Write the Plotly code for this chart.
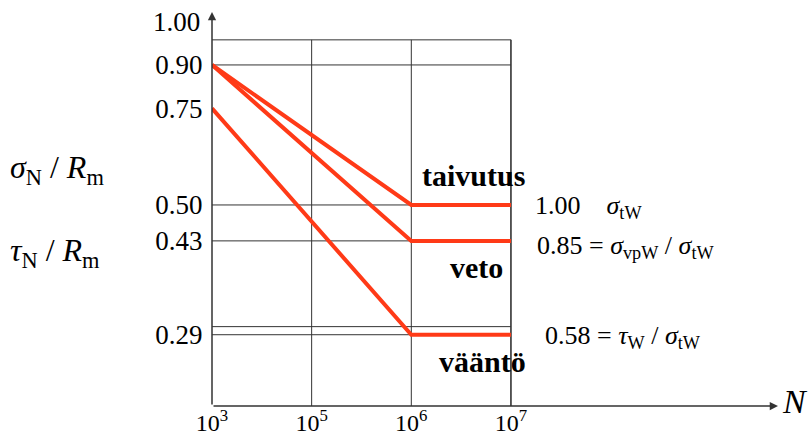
import math
import plotly.graph_objects as go

# Load-cycle categories on the horizontal axis
cycles = ["1e3", "1e5", "1e6", "1e7"]
cycle_labels = ["10<sup>3</sup>", "10<sup>5</sup>", "10<sup>6</sup>", "10<sup>7</sup>"]

# Fatigue strength ratio curves (points at 10^3, 10^6 and 10^7 cycles)
curve_cycles = ["1e3", "1e6", "1e7"]
taivutus = [0.90, 0.50, 0.50]
veto = [0.90, 0.43, 0.43]
vaanto = [0.75, 0.29, 0.29]

# Vertical axis ticks and reference lines
y_ticks = [0.29, 0.43, 0.50, 0.75, 0.90]
y_tick_labels = ["0.29", "0.43", "0.50", "0.75", "0.90"]
top_level = 1.00
grid_levels = [1.00, 0.90, 0.50, 0.43, 0.30, 0.29]

# Ratio labels to the right of the curves
ratio_labels = [
    "1.00\u00a0\u00a0\u00a0\u00a0<i>σ</i><sub>tW</sub>",
    "0.85 = <i>σ</i><sub>vpW</sub> / <i>σ</i><sub>tW</sub>",
    "0.58 = <i>τ</i><sub>W</sub> / <i>σ</i><sub>tW</sub>",
]

SERIF = "Liberation Serif, Times New Roman, serif"
RED = "#FF3A17"
GRID = "#333333"

x_of = {c: i for i, c in enumerate(cycles)}
y_min, y_max = 0.215, 1.124

fig = go.Figure()

# reference grid (drawn as plain line traces so they use real data values)
x_first, x_last = x_of[cycles[0]], x_of[cycles[-1]]
for lvl in grid_levels:
    fig.add_trace(go.Scatter(x=[x_first, x_last], y=[lvl, lvl], mode="lines",
                             line=dict(color=GRID, width=1), hoverinfo="skip",
                             showlegend=False))
for c in cycles[1:]:
    fig.add_trace(go.Scatter(x=[x_of[c], x_of[c]], y=[y_min, top_level], mode="lines",
                             line=dict(color=GRID, width=1.6 if c == cycles[-1] else 1),
                             hoverinfo="skip", showlegend=False))

# the three strength curves
cx = [x_of[c] for c in curve_cycles]
for name, vals in (("taivutus", taivutus), ("veto", veto), ("vääntö", vaanto)):
    fig.add_trace(go.Scatter(x=cx, y=vals, mode="lines", name=name,
                             line=dict(color=RED, width=4), showlegend=False))

L = math.log10
ann = []
# curve names
for text, xi, lvl, ys in (("taivutus", 2.62, taivutus[-1], 29),
                          ("veto", 2.65, veto[-1], -27),
                          ("vääntö", 2.71, vaanto[-1], -27)):
    ann.append(dict(text=f"<b>{text}</b>", x=xi, y=L(lvl), xref="x", yref="y",
                    yshift=ys, showarrow=False, xanchor="center", yanchor="middle",
                    font=dict(family=SERIF, size=30, color="black")))
# ratio labels
for text, lvl, xs, ys in zip(ratio_labels, (taivutus[-1], veto[-1], vaanto[-1]),
                             (22, 24, 32), (-2, -6, -2)):
    ann.append(dict(text=text, x=x_last, y=L(lvl), xref="x", yref="y",
                    xshift=xs, yshift=ys, showarrow=False, xanchor="left",
                    yanchor="middle", font=dict(family=SERIF, size=26, color="black")))
# top value of the vertical axis
ann.append(dict(text=f"{top_level:.2f}", x=0, y=L(top_level), xref="paper", yref="y",
                xshift=-10, yshift=18, showarrow=False, xanchor="right",
                yanchor="middle", font=dict(family=SERIF, size=27, color="black")))
# axis titles
ann.append(dict(text="<i>σ</i><sub>N</sub> / <i>R</i><sub>m</sub>", x=0, y=L(0.58),
                xref="paper", yref="y", xshift=-204, showarrow=False, xanchor="left",
                yanchor="middle", font=dict(family=SERIF, size=32, color="black")))
ann.append(dict(text="<i>τ</i><sub>N</sub> / <i>R</i><sub>m</sub>", x=0, y=L(0.41),
                xref="paper", yref="y", xshift=-204, showarrow=False, xanchor="left",
                yanchor="middle", font=dict(family=SERIF, size=32, color="black")))
ann.append(dict(text="<i>N</i>", x=1, y=0, xref="paper", yref="paper", xshift=17,
                yshift=5, showarrow=False, xanchor="center", yanchor="middle",
                font=dict(family=SERIF, size=34, color="black")))
# axis arrows
ann.append(dict(x=1, y=0, xref="paper", yref="paper", ax=-566, ay=0,
                axref="pixel", ayref="pixel", showarrow=True, arrowhead=2,
                arrowsize=1.1, arrowwidth=1.5, arrowcolor=GRID, text=""))
ann.append(dict(x=0, y=1, xref="paper", yref="paper", ax=0, ay=394,
                axref="pixel", ayref="pixel", showarrow=True, arrowhead=2,
                arrowsize=1.1, arrowwidth=1.5, arrowcolor=GRID, text=""))

fig.update_layout(
    width=808, height=441,
    margin=dict(l=212, r=30, t=12, b=35),
    paper_bgcolor="white", plot_bgcolor="white",
    annotations=ann,
    xaxis=dict(range=[0, 5.68], tickvals=[x_of[c] for c in cycles], ticktext=cycle_labels,
               showgrid=False, zeroline=False, showline=False, ticks="",
               automargin=False,
               tickfont=dict(family=SERIF, size=24, color="black")),
    yaxis=dict(type="log", range=[L(y_min), L(y_max)], tickvals=y_ticks,
               ticktext=y_tick_labels, showgrid=False, zeroline=False, showline=False,
               ticks="outside", ticklen=3, tickcolor="rgba(0,0,0,0)", automargin=False,
               tickfont=dict(family=SERIF, size=27, color="black")),
)

fig.write_html("out.html")
